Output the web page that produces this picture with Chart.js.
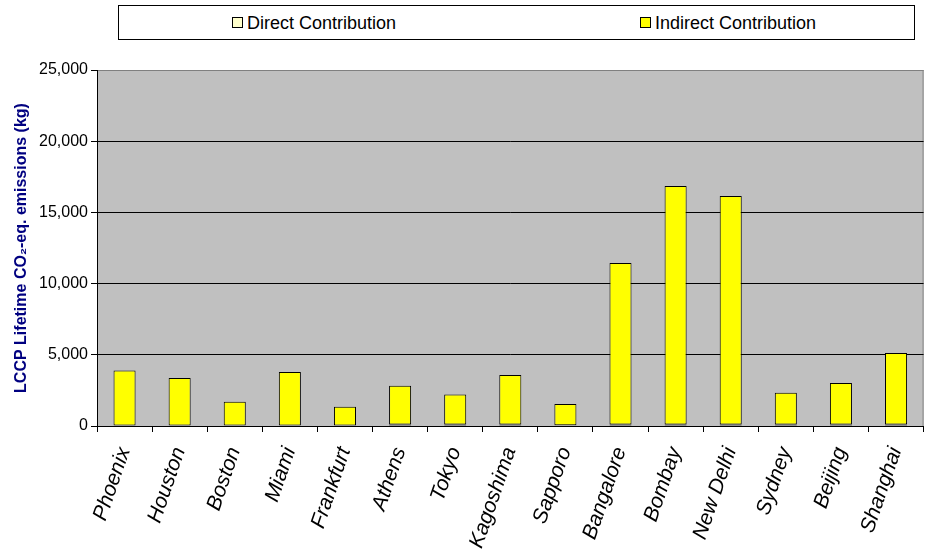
<!DOCTYPE html>
<html lang="en">
<head>
    <meta charset="UTF-8">
    <title>LCCP Lifetime Emissions</title>
    <script src="https://cdn.jsdelivr.net/npm/chart.js"></script>
    <style>
        body { margin: 0; background: #fff; font-family: "Liberation Sans", Arial, sans-serif; }
        .wrap { position: relative; width: 932px; height: 557px; }
        .legend {
            position: absolute; left: 118px; top: 5px; width: 795px; height: 33px;
            border: 1px solid #000; background: #fff;
        }
        .legend-item { position: absolute; top: 7px; font-size: 18px; line-height: 20px; white-space: nowrap; }
        .legend-item span.box {
            display: inline-block; width: 9px; height: 9px; border: 1px solid #000;
            margin-right: 4px; vertical-align: 1px;
        }
    </style>
</head>
<body>
    <div class="wrap">
        <canvas id="lccpChart" width="932" height="557"></canvas>
        <div class="legend" id="legend"></div>
    </div>

    <script>
        const cities = ['Phoenix', 'Houston', 'Boston', 'Miami', 'Frankfurt', 'Athens', 'Tokyo',
            'Kagoshima', 'Sapporo', 'Bangalore', 'Bombay', 'New Delhi', 'Sydney', 'Beijing', 'Shanghai'];
        const directValues = [30, 30, 30, 30, 30, 100, 100, 100, 60, 100, 100, 100, 100, 100, 100];
        const indirectValues = [3870, 3340, 1680, 3770, 1330, 2720, 2120, 3480, 1480, 11350, 16750, 16050, 2240, 2920, 5030];
        const yTicks = [0, 5000, 10000, 15000, 20000, 25000];

        const datasets = [
            { label: 'Direct Contribution', data: directValues, backgroundColor: '#FFFFCC' },
            { label: 'Indirect Contribution', data: indirectValues, backgroundColor: '#FFFF00' }
        ];

        // html legend in a framed box like the original
        const legendLeft = [113, 521];
        const legend = document.getElementById('legend');
        datasets.forEach((ds, i) => {
            const item = document.createElement('div');
            item.className = 'legend-item';
            item.style.left = legendLeft[i] + 'px';
            item.innerHTML = `<span class="box" style="background:${ds.backgroundColor}"></span>${ds.label}`;
            legend.appendChild(item);
        });

        const plotFrame = {
            id: 'plotFrame',
            beforeDraw(chart) {
                const { ctx, chartArea: a } = chart;
                ctx.save();
                ctx.fillStyle = '#C0C0C0';
                ctx.fillRect(a.left, a.top, a.width, a.height);
                ctx.strokeStyle = '#808080';
                ctx.lineWidth = 1;
                ctx.strokeRect(a.left + 0.5, a.top + 0.5, a.width - 1, a.height);
                ctx.restore();
            }
        };

        new Chart(document.getElementById('lccpChart'), {
            type: 'bar',
            data: {
                labels: cities,
                datasets: datasets.map(ds => ({
                    ...ds,
                    borderColor: '#000',
                    borderWidth: 1,
                    borderSkipped: false,
                    categoryPercentage: 1,
                    barPercentage: 0.4
                }))
            },
            options: {
                responsive: false,
                animation: false,
                layout: { padding: { top: 70, right: 4, left: 0, bottom: 0 } },
                plugins: { legend: { display: false }, tooltip: { enabled: false } },
                scales: {
                    x: {
                        stacked: true,
                        grid: { offset: true, drawOnChartArea: false, color: '#000', tickLength: 6 },
                        border: { color: '#000' },
                        ticks: {
                            color: '#000',
                            font: { family: 'Liberation Sans', size: 21, style: 'italic' },
                            minRotation: 71, maxRotation: 71, padding: 12, autoSkip: false
                        },
                        afterFit(scale) { scale.height = 131; }
                    },
                    y: {
                        stacked: true,
                        min: 0, max: 25000,
                        afterBuildTicks(scale) { scale.ticks = yTicks.map(v => ({ value: v })); },
                        grid: {
                            color: ctx => ctx.tick && ctx.tick.value === 25000 ? '#808080' : '#000',
                            tickColor: '#000',
                            tickLength: 6
                        },
                        border: { color: '#000' },
                        ticks: {
                            color: '#000',
                            font: { family: 'Liberation Sans', size: 16 },
                            padding: 3,
                            callback: v => v.toLocaleString('en-US')
                        },
                        title: {
                            display: true,
                            text: 'LCCP Lifetime CO\u2082-eq. emissions (kg)',
                            color: '#000080',
                            font: { family: 'Liberation Sans', size: 16, weight: 'bold' },
                            padding: { top: 12, bottom: 0 }
                        },
                        afterFit(scale) { scale.width = 97; }
                    }
                }
            },
            plugins: [plotFrame]
        });
    </script>
</body>
</html>
